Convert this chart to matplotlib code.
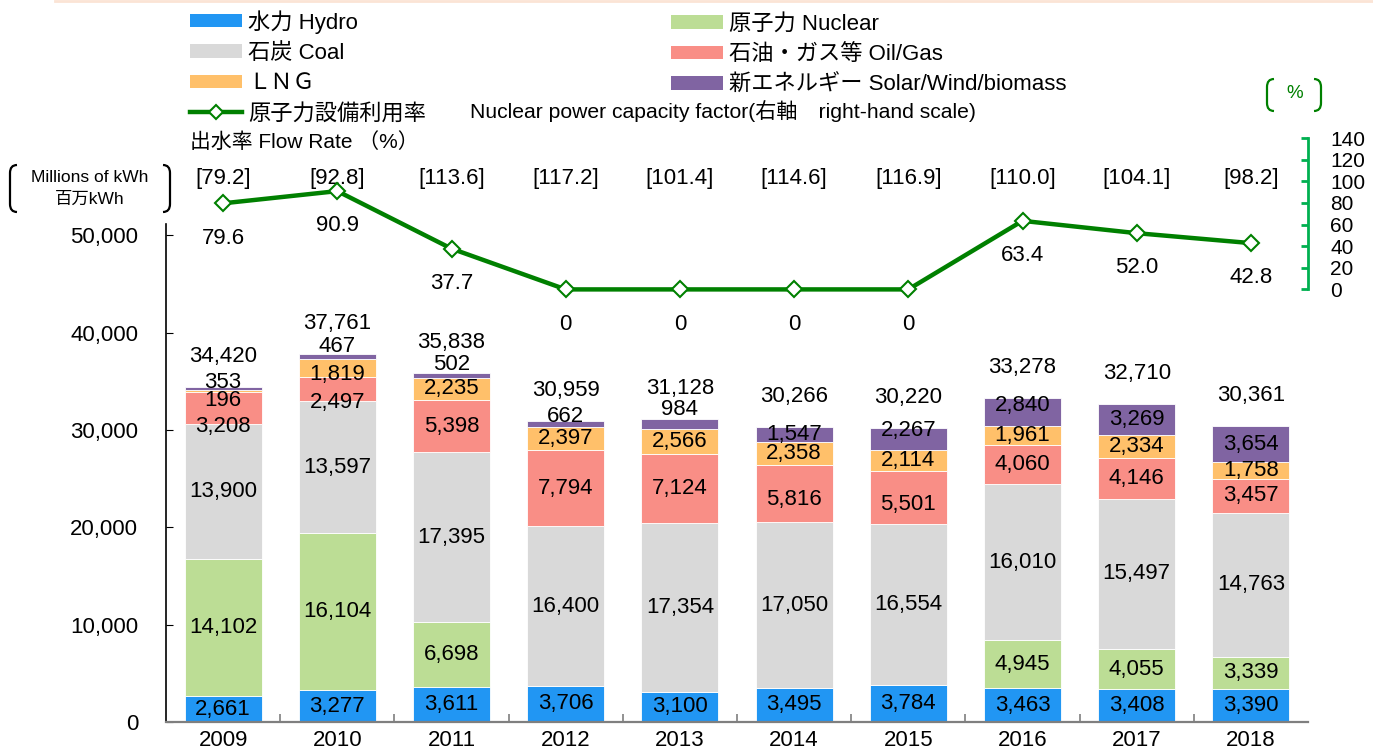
import numpy as np
import matplotlib.pyplot as plt
import matplotlib.transforms as mtransforms
from matplotlib.patches import Patch, PathPatch
from matplotlib.lines import Line2D
from matplotlib.path import Path

plt.rcParams['font.family'] = ['Liberation Sans', 'Noto Sans CJK JP']

years = ['2009', '2010', '2011', '2012', '2013', '2014', '2015', '2016', '2017', '2018']
hydro = [2661, 3277, 3611, 3706, 3100, 3495, 3784, 3463, 3408, 3390]
nuclear = [14102, 16104, 6698, 0, 0, 0, 0, 4945, 4055, 3339]
coal = [13900, 13597, 17395, 16400, 17354, 17050, 16554, 16010, 15497, 14763]
oil_gas = [3208, 2497, 5398, 7794, 7124, 5816, 5501, 4060, 4146, 3457]
lng = [196, 1819, 2235, 2397, 2566, 2358, 2114, 1961, 2334, 1758]
renew = [353, 467, 502, 662, 984, 1547, 2267, 2840, 3269, 3654]
totals = [34420, 37761, 35838, 30959, 31128, 30266, 30220, 33278, 32710, 30361]
capacity_factor = [79.6, 90.9, 37.7, 0, 0, 0, 0, 63.4, 52.0, 42.8]
flow_rate = ['79.2', '92.8', '113.6', '117.2', '101.4', '114.6', '116.9', '110.0', '104.1', '98.2']

names = ['水力 Hydro', '原子力 Nuclear', '石炭 Coal', '石油・ガス等 Oil/Gas',
         'ＬＮＧ', '新エネルギー Solar/Wind/biomass']
colors = ['#2196f3', '#bcdd95', '#d9d9d9', '#f98e86', '#ffc06a', '#8064a2']
series = [hydro, nuclear, coal, oil_gas, lng, renew]

# label nudges in pixels (up +) for crowded segments
nudge = {(5, 0): 6, (4, 0): -9, (3, 0): -19, (5, 1): 10, (4, 1): -7, (3, 1): -14,
         (5, 2): 11, (5, 3): 7, (5, 4): 14, (5, 6): 8, (5, 7): 6, (3, 5): -6, (3, 6): -7}

W, H = 1373, 752
fig = plt.figure(figsize=(W / 100, H / 100), dpi=100)
ax = fig.add_axes([166 / W, 30 / H, (1308 - 166) / W, (722 - 138) / H])

x = np.arange(len(years))
bottom = np.zeros(len(years))
for s, (vals, col) in enumerate(zip(series, colors)):
    ax.bar(x, vals, 0.675, bottom=bottom, color=col, edgecolor='white', linewidth=0.6)
    for i, v in enumerate(vals):
        if v == 0:
            continue
        ax.annotate(f'{v:,}', (i, bottom[i] + v / 2), xytext=(0, nudge.get((s, i), 0) * 0.72),
                    textcoords='offset points', ha='center', va='center', fontsize=16)
    bottom += np.array(vals)

for i, t in enumerate(totals):
    ax.annotate(f'{t:,}', (i, t), xytext=(0, 22), textcoords='offset points',
                ha='center', va='center', fontsize=16)

ax.set_xlim(-0.5, len(years) - 0.5)
ax.set_ylim(0, 60000)
ax.set_yticks(range(0, 50001, 10000))
ax.set_yticklabels([f'{v:,}' for v in range(0, 50001, 10000)])
ax.spines['left'].set_bounds(0, 51200)
ax.spines['left'].set_linewidth(1.2)
ax.spines['top'].set_visible(False)
ax.spines['right'].set_visible(False)
ax.spines['bottom'].set_color('#7f7f7f')
ax.spines['bottom'].set_linewidth(1.6)
ax.tick_params(axis='y', direction='in', length=5, pad=20, labelsize=16)
ax.set_xticks(x, years)
ax.set_xticks(np.arange(0.5, len(years) - 1, 1), minor=True)
ax.tick_params(axis='x', which='major', length=0, pad=6, labelsize=16)
ax.tick_params(axis='x', which='minor', direction='in', length=6, color='#7f7f7f', width=1.2)

# flow rate row
trans = mtransforms.blended_transform_factory(ax.transData, ax.transAxes)
for i, fr in enumerate(flow_rate):
    ax.text(i, 0.9315, f'[{fr}]', transform=trans, ha='center', va='center', fontsize=16)

# capacity factor line on right axis
ax2 = ax.twinx()
ax2.set_ylim(-400, 140)
ax2.plot(x, capacity_factor, color='#008000', lw=3.2, marker='D', ms=8.5,
         mfc='white', mec='#008000', mew=1.5, zorder=5, clip_on=False)
for i, v in enumerate(capacity_factor):
    lab = '0' if v == 0 else f'{v:.1f}'
    ax2.annotate(lab, (i, v), xytext=(0, -25), textcoords='offset points',
                 ha='center', va='center', fontsize=16)
for sp in ['top', 'left', 'bottom']:
    ax2.spines[sp].set_visible(False)
ax2.spines['right'].set_bounds(0, 140)
ax2.spines['right'].set_color('#00b050')
ax2.spines['right'].set_linewidth(2)
ax2.set_yticks(range(0, 141, 20))
ax2.tick_params(axis='y', direction='in', length=5, width=2, color='#00b050', pad=16, labelsize=15)


def bracket(x0, y0, y1, side, color):
    # rounded bracket drawn in figure pixels
    d = 7 if side == 'left' else -7
    verts = [(x0 + d, y0), (x0, y0), (x0, y0 + 8), (x0, y1 - 8), (x0, y1), (x0 + d, y1)]
    codes = [Path.MOVETO, Path.CURVE3, Path.CURVE3, Path.LINETO, Path.CURVE3, Path.CURVE3]
    verts = [(vx / W, 1 - vy / H) for vx, vy in verts]
    fig.add_artist(PathPatch(Path(verts, codes), fill=False, edgecolor=color, lw=1.6,
                             transform=fig.transFigure))


bracket(10, 165, 212, 'left', 'black')
bracket(170, 165, 212, 'right', 'black')
fig.text(90 / W, 1 - 178 / H, 'Millions of kWh', ha='center', va='center', fontsize=12.5)
fig.text(90 / W, 1 - 199 / H, '百万kWh', ha='center', va='center', fontsize=12.5)

bracket(1267, 79, 111, 'left', '#008000')
bracket(1321, 79, 111, 'right', '#008000')
fig.text(1295 / W, 1 - 94 / H, '%', ha='center', va='center', fontsize=13.5, color='#008000')

fig.text(190 / W, 1 - 142 / H, '出水率 Flow Rate （%）', ha='left', va='center', fontsize=15)
fig.text(470 / W, 1 - 111 / H, 'Nuclear power capacity factor(右軸　right-hand scale)',
         ha='left', va='center', fontsize=15.2)

# legends
h = [Patch(facecolor=c, edgecolor='none') for c in colors]
line_h = Line2D([], [], color='#008000', lw=3.2, marker='D', ms=7, mfc='white', mec='#008000', mew=1.5)
leg_kw = dict(loc='upper left', frameon=False, borderpad=0, borderaxespad=0, fontsize=16,
              handlelength=2.35, handleheight=0.55, handletextpad=0.25, labelspacing=0.42)
fig.legend([h[0], h[2], h[4], line_h], [names[0], names[2], names[4], '原子力設備利用率'],
           bbox_to_anchor=(190 / W, 1 - 10 / H), **leg_kw)
fig.legend([h[1], h[3], h[5]], [names[1], names[3], names[5]],
           bbox_to_anchor=(671 / W, 1 - 14 / H), **leg_kw)

fig.add_artist(Line2D([55 / W, 1], [1 - 1 / H, 1 - 1 / H], color='#fbe4d5', lw=2))

fig.savefig('out.png', dpi=100)
